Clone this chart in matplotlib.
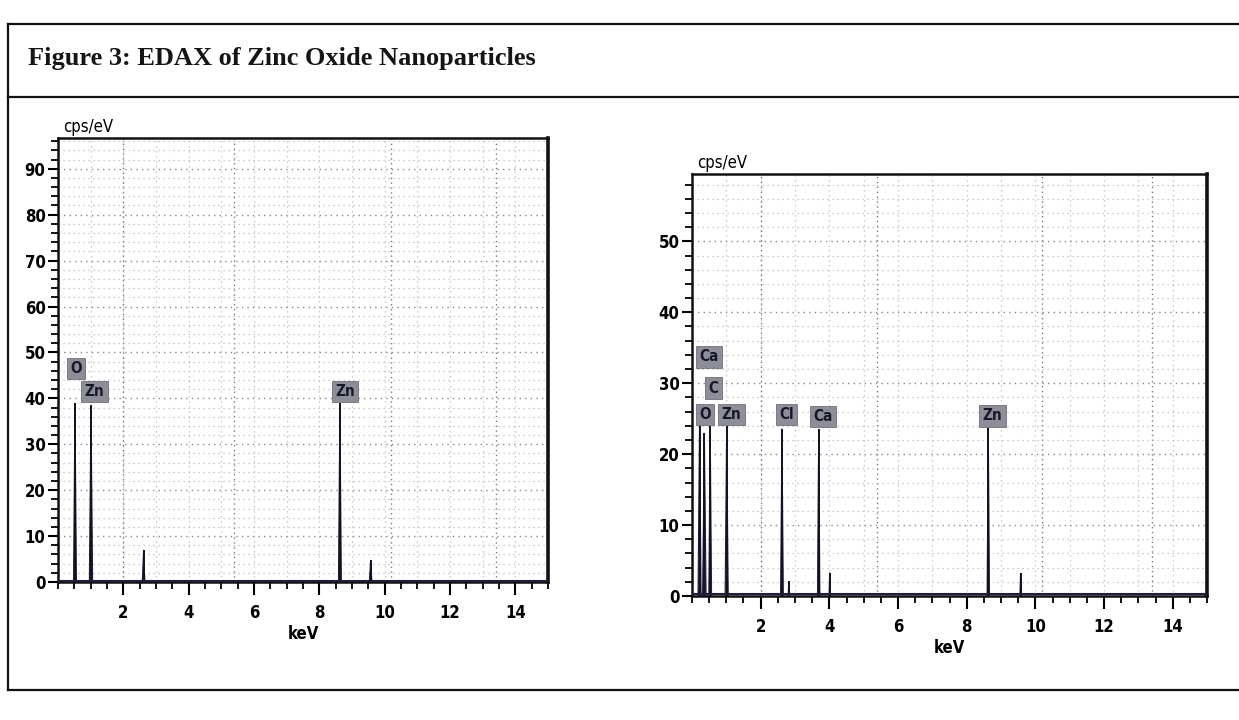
import numpy as np
import matplotlib.pyplot as plt
from matplotlib.lines import Line2D
from matplotlib.ticker import MultipleLocator

plt.rcParams['font.family'] = ['DejaVu Sans']
plt.rcParams['font.stretch'] = 'condensed'

# --- data ---
# left spectrum: peak energy (keV) and height (cps/eV)
left_energy = [0.52, 1.01, 2.62, 8.63, 9.57]
left_height = [39.0, 38.5, 7.0, 39.0, 4.8]
left_labels = ['O', 'Zn', 'Zn']
left_label_x = [0.55, 1.12, 8.78]
left_label_y = [46.5, 41.5, 41.5]

# right spectrum
right_energy = [0.22, 0.36, 0.53, 1.01, 2.62, 2.82, 3.69, 4.01, 8.63, 9.57]
right_height = [24.5, 23.0, 24.0, 24.0, 23.6, 2.1, 23.5, 3.3, 23.8, 3.2]
right_labels = ['Ca', 'C', 'O', 'Zn', 'Cl', 'Ca', 'Zn']
right_label_x = [0.5, 0.62, 0.38, 1.15, 2.75, 3.82, 8.75]
right_label_y = [33.7, 29.3, 25.6, 25.6, 25.6, 25.3, 25.4]

peak_width = [0.045, 0.05, 0.04, 0.045, 0.04, 0.02, 0.035, 0.02, 0.035, 0.02]

fig = plt.figure(figsize=(12.39, 7.2), dpi=100)
W, H = 1239.0, 720.0


def fx(px):
    return px / W


def fy(py):
    return 1 - py / H


# frame and title bar
for x0, y0, x1, y1 in [(8, 24, 1245, 24), (8, 24, 8, 690), (8, 690, 1245, 690),
                       (8, 97, 1245, 97)]:
    fig.add_artist(Line2D([fx(x0), fx(x1)], [fy(y0), fy(y1)], color='#111111', lw=1.6))

fig.text(fx(28), fy(58), 'Figure 3: EDAX of Zinc Oxide Nanoparticles',
         family=['Liberation Serif', 'DejaVu Serif'], fontweight='bold', fontsize=19,
         va='center', ha='left', color='#151515')


def draw_spectrum(rect, energy, height, labels, lab_x, lab_y, ymax):
    ax = fig.add_axes(rect)
    ax.set_xlim(0, 15)
    ax.set_ylim(0, ymax)
    ax.xaxis.set_minor_locator(MultipleLocator(0.5))
    ax.yaxis.set_major_locator(MultipleLocator(10))
    ax.yaxis.set_minor_locator(MultipleLocator(2))
    ax.set_xticks([2, 4, 6, 8, 10, 12, 14])

    # dotted background grid
    ax.grid(True, which='minor', axis='y', ls=(0, (1, 3)), color='#cdb3b8', lw=0.9)
    ax.grid(True, which='major', axis='y', ls=(0, (1, 3)), color='#8a8a8a', lw=1.0)
    for xv in np.arange(1, 15, 1):
        ax.axvline(xv, ls=(0, (1, 3)), color='#c9b8bb', lw=0.9, zorder=0)
    for xv in [2, 5.4, 10.2, 13.4]:
        ax.axvline(xv, ls=(0, (1, 2.5)), color='#7a7a7a', lw=1.0, zorder=0)

    # peaks
    for i, (e, h) in enumerate(zip(energy, height)):
        w = peak_width[i]
        ax.fill([e - w, e, e + w], [0, h, 0], color='#1f1f3a', lw=0.8, zorder=3)
        ax.vlines(e, 0, h, color='#121225', lw=1.4, zorder=3)
    ax.axhline(0.3, color='#1f1f3a', lw=1.5, zorder=3)

    for t, x, y in zip(labels, lab_x, lab_y):
        ax.text(x, y, t, ha='center', va='center', fontsize=11, fontweight='bold',
                color='#18182a', zorder=4,
                bbox=dict(boxstyle='square,pad=0.22', fc='#8e8e98', ec='#6f6f7a', lw=0.6))

    for s in ['top', 'right', 'left', 'bottom']:
        ax.spines[s].set_linewidth(1.8)
        ax.spines[s].set_color('#111111')
    ax.spines['right'].set_linewidth(2.6)
    ax.tick_params(which='major', direction='out', length=7, width=1.5,
                   labelsize=12, pad=2)
    ax.tick_params(axis='x', which='major', length=9, pad=7)
    ax.tick_params(which='minor', direction='out', length=5, width=1.3)
    for lab in ax.get_xticklabels() + ax.get_yticklabels():
        lab.set_fontweight('bold')
    ax.set_xlabel('keV', fontsize=12, fontweight='bold', labelpad=2)
    ax.text(0.01, 1.004, 'cps/eV', transform=ax.transAxes, fontsize=12,
            ha='left', va='bottom')
    return ax


ax1 = draw_spectrum([fx(58), fy(582), fx(548) - fx(58), fy(138) - fy(582)],
                    left_energy, left_height, left_labels, left_label_x, left_label_y, 96.7)
ax2 = draw_spectrum([fx(692), fy(596), fx(1207) - fx(692), fy(174) - fy(596)],
                    right_energy, right_height, right_labels, right_label_x, right_label_y, 59.5)

plt.savefig('out.png', dpi=100)
